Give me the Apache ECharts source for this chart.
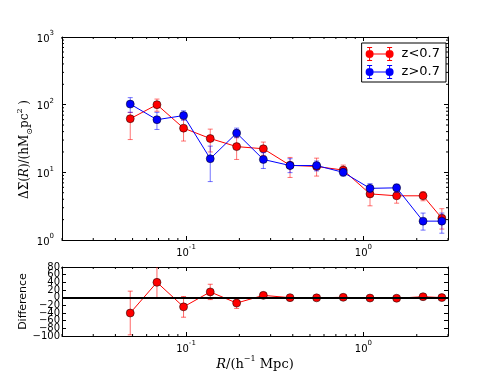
<!DOCTYPE html>
<html><head><meta charset="utf-8">
<script src="https://cdn.jsdelivr.net/npm/echarts@6/dist/echarts.min.js"></script>
<style>html,body{margin:0;padding:0;background:#fff}#c{width:498px;height:374px}</style>
</head><body><div id="c"></div>
<script>
// ---- data ----
var R       = [0.0485, 0.0686, 0.0969, 0.137, 0.193, 0.273, 0.386, 0.545, 0.77, 1.09, 1.54, 2.17, 2.77];
var redY    = [62, 100, 45, 31.6, 24, 22.3, 12.7, 12.2, 10.8, 4.8, 4.5, 4.5, 2.1];
var redLo   = [30.5, 80, 29, 20, 15.5, 17.8, 8.4, 8.8, 9.2, 3.2, 3.5, 3.8, 1.45];
var redHi   = [77, 121, 60, 43.5, 32.6, 28, 16.6, 16.2, 12.8, 5.8, 5.2, 5.2, 2.9];
var blueY   = [102, 60, 69, 15.9, 38, 15.5, 12.6, 12.6, 10, 5.8, 5.9, 1.9, 1.9];
var blueLo  = [77, 43, 59, 7.3, 32.5, 11.4, 9.9, 10.5, 8.8, 5.0, 5.1, 1.4, 1.26];
var blueHi  = [127, 77, 81, 24.4, 45, 19.5, 15.9, 14.7, 11.4, 6.8, 6.7, 2.5, 2.5];
var diffY   = [-40, 40, -24, 15, -14, 6, 0, -0.5, 1, -1, -1.5, 2.5, 0.2];
var diffErr = [57, 42, 27, 20, 14, 6, 2, 2, 2, 2, 2, 2, 2];
var xMinor  = [0.02,0.03,0.04,0.05,0.06,0.07,0.08,0.09,0.2,0.3,0.4,0.5,0.6,0.7,0.8,0.9,2,3];
var yMinor  = [2,3,4,5,6,7,8,9,20,30,40,50,60,70,80,90,200,300,400,500,600,700,800,900];
var diffTicks = [-100,-80,-60,-40,-20,0,20,40,60,80];
var seriesNames = ['z<0.7', 'z>0.7'];

var SANS = 'DejaVu Sans';
var SERIF = 'DejaVu Serif';

function pw(v){
  var e = Math.log(v)/Math.LN10;
  var r = Math.round(e);
  if (Math.abs(e - r) > 1e-6) return '';
  return '{b|10}{s|' + (r < 0 ? '-' + (-r) : r) + '}';
}
var powRich = {
  b: {fontFamily: SANS, fontSize: 10, color: '#000', lineHeight: 14, verticalAlign: 'bottom'},
  s: {fontFamily: SANS, fontSize: 7, color: '#000', lineHeight: 14, verticalAlign: 'top'}
};

function errRender(color){
  return function(params, api){
    var x = api.value(0), lo = api.value(1), hi = api.value(2);
    var p1 = api.coord([x, hi]), p2 = api.coord([x, lo]);
    var cw = 2.5;
    var st = {stroke: color, lineWidth: 1, fill: null};
    return {type: 'group', children: [
      {type: 'line', shape: {x1: p1[0], y1: p1[1], x2: p2[0], y2: p2[1]}, style: st},
      {type: 'line', shape: {x1: p1[0]-cw, y1: p1[1], x2: p1[0]+cw, y2: p1[1]}, style: st},
      {type: 'line', shape: {x1: p2[0]-cw, y1: p2[1], x2: p2[0]+cw, y2: p2[1]}, style: st}
    ]};
  };
}
function xMinorRender(params, api){
  var cs = params.coordSys;
  var px = api.coord([api.value(0), api.value(1)])[0];
  var st = {stroke: '#000', lineWidth: 1};
  return {type: 'group', children: [
    {type: 'line', shape: {x1: px, y1: cs.y, x2: px, y2: cs.y + 2}, style: st},
    {type: 'line', shape: {x1: px, y1: cs.y + cs.height, x2: px, y2: cs.y + cs.height - 2}, style: st}
  ]};
}
function yMinorRender(params, api){
  var cs = params.coordSys;
  var py = api.coord([api.value(0), api.value(1)])[1];
  var st = {stroke: '#000', lineWidth: 1};
  return {type: 'group', children: [
    {type: 'line', shape: {x1: cs.x, y1: py, x2: cs.x + 2, y2: py}, style: st},
    {type: 'line', shape: {x1: cs.x + cs.width, y1: py, x2: cs.x + cs.width - 2, y2: py}, style: st}
  ]};
}

function zip3(a, b, c){ return a.map(function(v, i){ return [v, b[i], c[i]]; }); }
function zip2(a, b){ return a.map(function(v, i){ return [v, b[i]]; }); }

var axLine = {show: true, onZero: false, lineStyle: {color: '#000', width: 1}};
var majTick = {show: true, inside: true, length: 4, lineStyle: {color: '#000', width: 1}};

function logX(grid, pos, labels, extra){
  var o = {type: 'log', logBase: 10, gridIndex: grid, position: pos, min: 0.02, max: 3,
    axisLine: axLine, axisTick: majTick, splitLine: {show: false},
    axisLabel: {show: labels, formatter: pw, rich: powRich, margin: 4, showMinLabel: false, showMaxLabel: false}};
  for (var k in extra) o[k] = extra[k];
  return o;
}

// difference-panel tick labels split over two overlaid axes so none are dropped
function diffLabel(parity){
  return function(v){
    var idx = diffTicks.indexOf(v);
    if (idx < 0 || idx % 2 !== parity) return '';
    return v < 0 ? '−' + (-v) : '' + v;
  };
}
function diffAxis(pos, parity, main){
  var o = {type: 'value', gridIndex: 1, position: pos, offset: 0,
    min: diffTicks[0], max: diffTicks[diffTicks.length-1], interval: 20,
    axisLine: main ? axLine : {show: false}, axisTick: main ? majTick : {show: false},
    splitLine: {show: false},
    axisLabel: parity === null ? {show: false} :
      {fontFamily: SANS, fontSize: 10, lineHeight: 10, color: '#000', margin: 2, interval: 0,
       showMinLabel: true, showMaxLabel: true, formatter: diffLabel(parity)}};
  return o;
}

var legendIcon = 'path://M0,7 A4,4 0 1,1 8,7 A4,4 0 1,1 0,7 Z M20,7 A4,4 0 1,1 28,7 A4,4 0 1,1 20,7 Z ' +
  'M4,6.5 L24,6.5 L24,7.5 L4,7.5 Z ' +
  'M3.5,0 L4.5,0 L4.5,14 L3.5,14 Z M1.5,0 L6.5,0 L6.5,1 L1.5,1 Z M1.5,13 L6.5,13 L6.5,14 L1.5,14 Z ' +
  'M23.5,0 L24.5,0 L24.5,14 L23.5,14 Z M21.5,0 L26.5,0 L26.5,1 L21.5,1 Z M21.5,13 L26.5,13 L26.5,14 L21.5,14 Z';

var yDiffMain = diffAxis('left', 0, true);
yDiffMain.name = 'Difference';
yDiffMain.nameLocation = 'middle';
yDiffMain.nameGap = 33;
yDiffMain.nameRotate = 90;
yDiffMain.nameMoveOverlap = false;
yDiffMain.nameTextStyle = {fontFamily: SANS, fontSize: 11, color: '#000'};

var option = {
  animation: false,
  backgroundColor: '#fff',
  textStyle: {fontFamily: SANS},
  grid: [
    {left: 62, right: 50, top: 37, height: 203},
    {left: 62, right: 50, top: 267, height: 69}
  ],
  legend: {
    data: seriesNames,
    orient: 'vertical',
    right: 52, top: 43,
    padding: [4, 6, 3, 4],
    itemGap: 4,
    itemWidth: 28, itemHeight: 14,
    icon: legendIcon,
    itemStyle: {borderWidth: 0},
    borderColor: '#000', borderWidth: 1, borderRadius: 0,
    backgroundColor: '#fff',
    textStyle: {fontFamily: SANS, fontSize: 13, color: '#000', padding: [0, 0, 0, 3]}
  },
  xAxis: [
    logX(0, 'bottom', true, {}),
    logX(0, 'top', false, {}),
    logX(1, 'bottom', true, {
      name: '{i|R}{n|/(h}{s|−1}{n| Mpc)}', nameLocation: 'middle', nameGap: 19, nameMoveOverlap: false,
      nameTextStyle: {verticalAlign: 'top', rich: {
        i: {fontFamily: SERIF, fontStyle: 'italic', fontSize: 13, color: '#000', lineHeight: 16, verticalAlign: 'bottom'},
        n: {fontFamily: SERIF, fontSize: 13, color: '#000', lineHeight: 16, verticalAlign: 'bottom'},
        s: {fontFamily: SERIF, fontSize: 8, color: '#000', lineHeight: 16, verticalAlign: 'top'}
      }}
    }),
    logX(1, 'top', false, {})
  ],
  yAxis: [
    {type: 'log', logBase: 10, gridIndex: 0, position: 'left', min: 1, max: 1000,
     axisLine: axLine, axisTick: majTick, splitLine: {show: false},
     axisLabel: {formatter: pw, rich: powRich, margin: 8},
     name: '{n|ΔΣ(}{i|R}{n|)/(hM}{d|⊙}{n|pc}{s|2}{n| )}', nameLocation: 'middle', nameGap: 28, nameRotate: 90,
     nameMoveOverlap: false,
     nameTextStyle: {padding: [0, 22, 0, 0], rich: {
        i: {fontFamily: SERIF, fontStyle: 'italic', fontSize: 12, color: '#000', lineHeight: 18, verticalAlign: 'middle'},
        n: {fontFamily: SERIF, fontSize: 12, color: '#000', lineHeight: 18, verticalAlign: 'middle'},
        d: {fontFamily: SERIF, fontSize: 8, color: '#000', lineHeight: 18, verticalAlign: 'bottom'},
        s: {fontFamily: SERIF, fontSize: 8, color: '#000', lineHeight: 18, verticalAlign: 'top'}
     }}},
    {type: 'log', logBase: 10, gridIndex: 0, position: 'right', min: 1, max: 1000,
     axisLine: axLine, axisTick: majTick, splitLine: {show: false}, axisLabel: {show: false}},
    yDiffMain,
    diffAxis('right', null, true),
    diffAxis('left', 1, false)
  ],
  series: [
    {type: 'custom', name: 'err0', xAxisIndex: 0, yAxisIndex: 0, z: 2, silent: true,
     renderItem: errRender('rgba(255,0,0,0.55)'), encode: {x: 0, y: [1, 2]},
     data: zip3(R, redLo, redHi)},
    {type: 'line', name: seriesNames[0], xAxisIndex: 0, yAxisIndex: 0, z: 3,
     data: zip2(R, redY), symbol: 'circle', symbolSize: 8,
     lineStyle: {color: '#ff0000', width: 1},
     itemStyle: {color: '#ff0000', borderColor: '#000', borderWidth: 0.5}},
    {type: 'custom', name: 'err1', xAxisIndex: 0, yAxisIndex: 0, z: 4, silent: true,
     renderItem: errRender('rgba(0,0,255,0.55)'), encode: {x: 0, y: [1, 2]},
     data: zip3(R, blueLo, blueHi)},
    {type: 'line', name: seriesNames[1], xAxisIndex: 0, yAxisIndex: 0, z: 5,
     data: zip2(R, blueY), symbol: 'circle', symbolSize: 8,
     lineStyle: {color: '#0000ff', width: 1},
     itemStyle: {color: '#0000ff', borderColor: '#000', borderWidth: 0.5}},
    {type: 'custom', name: 'errd', xAxisIndex: 2, yAxisIndex: 2, z: 2, silent: true, clip: true,
     renderItem: errRender('rgba(255,0,0,0.6)'), encode: {x: 0, y: [1, 2]},
     data: R.map(function(x, i){ return [x, diffY[i] - diffErr[i], diffY[i] + diffErr[i]]; })},
    {type: 'line', name: 'diff', xAxisIndex: 2, yAxisIndex: 2, z: 3,
     data: zip2(R, diffY), symbol: 'circle', symbolSize: 8,
     lineStyle: {color: '#ff0000', width: 1},
     itemStyle: {color: '#ff0000', borderColor: '#000', borderWidth: 0.5},
     markLine: {silent: true, symbol: 'none', label: {show: false},
       lineStyle: {color: '#000', width: 2, type: 'solid'}, data: [{yAxis: 0}]}},
    {type: 'custom', name: 'mx0', xAxisIndex: 0, yAxisIndex: 0, silent: true, clip: false,
     renderItem: xMinorRender, encode: {x: 0, y: 1}, data: xMinor.map(function(v){ return [v, 10]; })},
    {type: 'custom', name: 'my0', xAxisIndex: 0, yAxisIndex: 0, silent: true, clip: false,
     renderItem: yMinorRender, encode: {x: 0, y: 1}, data: yMinor.map(function(v){ return [0.1, v]; })},
    {type: 'custom', name: 'mx1', xAxisIndex: 2, yAxisIndex: 2, silent: true, clip: false,
     renderItem: xMinorRender, encode: {x: 0, y: 1}, data: xMinor.map(function(v){ return [v, 0]; })}
  ]
};
var chart = echarts.init(document.getElementById('c'), null, {renderer: 'canvas'});
chart.setOption(option);
</script>
</body></html>
